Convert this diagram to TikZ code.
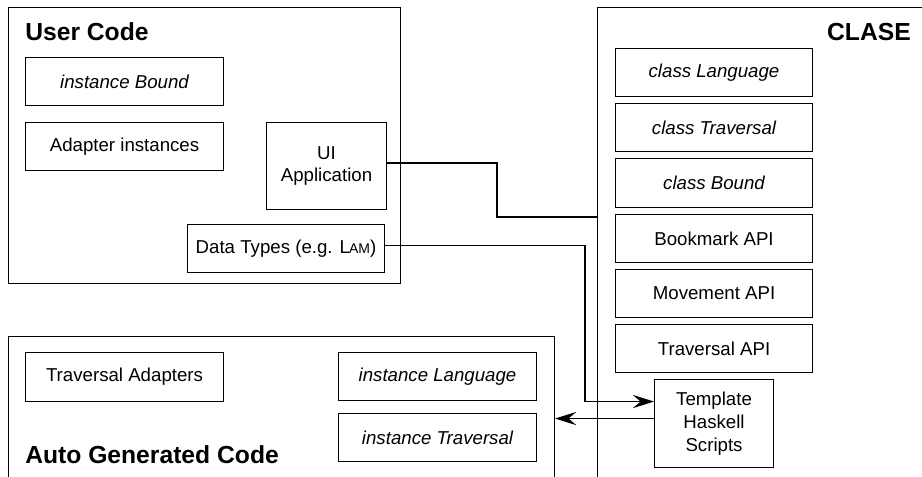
\documentclass[tikz,border=0pt]{standalone}
\usepackage{fontspec}
\setmainfont{Liberation Sans}
\usetikzlibrary{arrows.meta}
\tikzset{
  wh/.style 2 args={minimum width=#1*0.75pt, minimum height=#2*0.75pt},
  box/.style={draw, line width=0.8pt, inner sep=0pt, anchor=north west, align=center, font=\fontsize{14}{17}\selectfont},
  cont/.style={draw, line width=0.8pt, inner sep=0pt, anchor=north west},
  title/.style={inner sep=0pt, font=\fontsize{18.5}{22}\selectfont\bfseries},
  conn/.style={line width=0.8pt},
  thickconn/.style={line width=2.1pt},
  arr/.style={-{Stealth[length=16pt,width=10pt,inset=6pt]}}
}
\begin{document}
\begin{tikzpicture}[x=0.75pt,y=-0.75pt]
\useasboundingbox (0,0) rectangle (922,476);
\clip (0,0) rectangle (922,476);
% containers
\node[cont, wh={392}{276}] (userc) at (8,7) {};
\node[cont, wh={340}{480}] (clase) at (597,7) {};
\node[cont, wh={546}{150}] (auto) at (8,336) {};
% titles
\node[title, anchor=west] (tuser) at (25,32) {User Code};
\node[title, anchor=east] (tclase) at (911,32) {CLASE};
\node[title, anchor=west] (tauto) at (25,455) {Auto Generated Code};
% user code
\node[box, wh={198}{48}] (ibound) at (25,57) {\itshape instance Bound};
\node[box, wh={198}{48}] (adapt) at (25,122) {Adapter instances};
\node[box, wh={120}{87}] (ui) at (266,122) {UI\\Application};
\node[box, wh={197}{48}] (data) at (187,224) {Data Types (e.g. L\kern-0.6pt{\fontsize{10.5}{12}\selectfont AM})};
% CLASE
\node[box, wh={197}{48}] (clang) at (615,48) {\itshape class Language};
\node[box, wh={197}{48}] (ctrav) at (615,103) {\itshape class Traversal};
\node[box, wh={197}{49}] (cbound) at (615,158) {\itshape class Bound};
\node[box, wh={197}{48}] (bookm) at (615,214) {Bookmark API};
\node[box, wh={197}{48}] (movem) at (615,269) {Movement API};
\node[box, wh={197}{48}] (trapi) at (615,324) {Traversal API};
\node[box, wh={119}{88}] (tmpl) at (654,379) {Template\\Haskell\\Scripts};
% auto generated
\node[box, wh={198}{49}] (tradapt) at (25,352) {Traversal Adapters};
\node[box, wh={198}{48}] (ilang) at (338,352) {\itshape instance Language};
\node[box, wh={198}{48}] (itrav) at (338,413) {\itshape instance Traversal};
% connectors
\coordinate (v1) at (497,217);
\coordinate (u1) at ([yshift=2.25pt]ui.east);
\draw[thickconn] (u1) -| (v1) -- (v1 -| clase.west);
\coordinate (v2) at (585,0);
\coordinate (d1) at ([yshift=2.25pt]data.east);
\coordinate (e1) at ([yshift=16.5pt]tmpl.west);
\draw[conn, arr] (d1) -| (v2 |- e1) -- (e1);
\coordinate (s3) at ([yshift=3.75pt]tmpl.west);
\draw[conn, arr] (s3) -- (s3 -| auto.east);
\end{tikzpicture}
\end{document}
